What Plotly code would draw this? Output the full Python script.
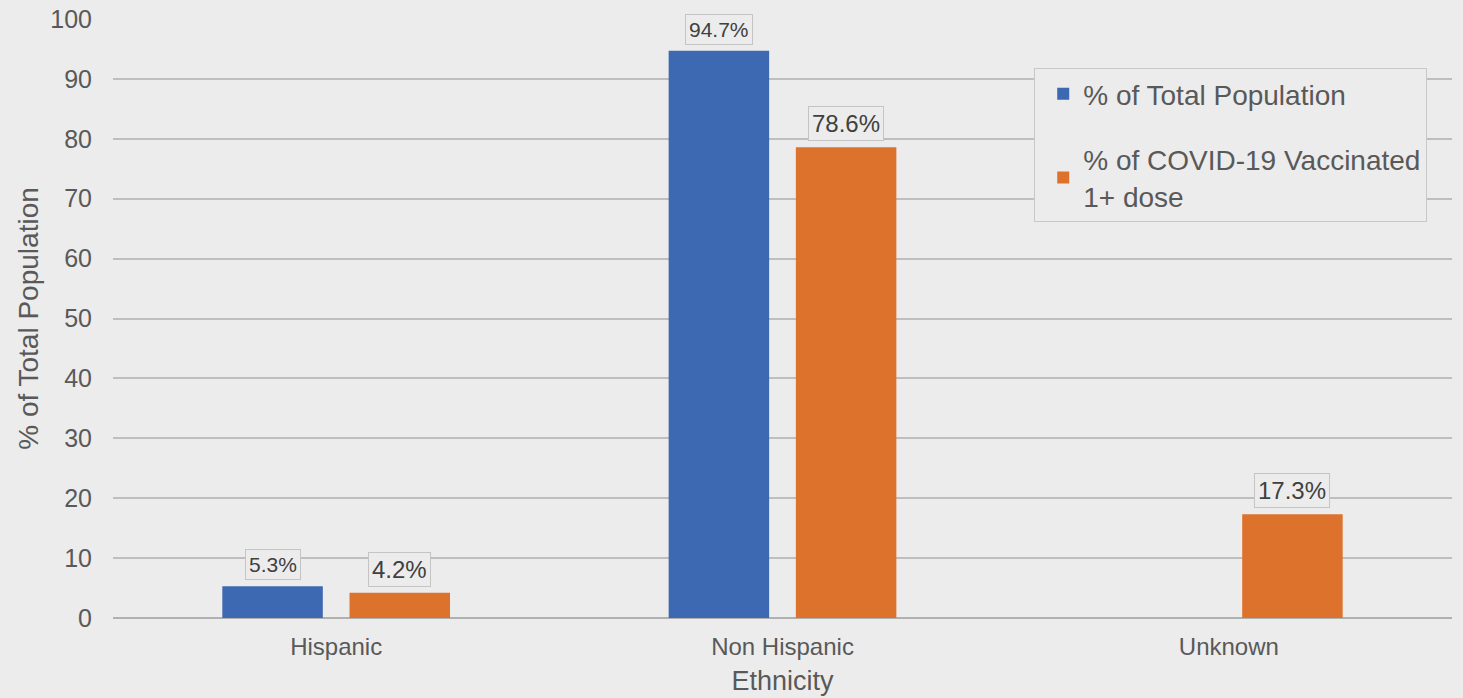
import plotly.graph_objects as go

categories = ["Hispanic", "Non Hispanic", "Unknown"]
series_names = ["% of Total Population", "% of COVID-19 Vaccinated<br>1+ dose"]
total_pop = [5.3, 94.7, None]
vaccinated = [4.2, 78.6, 17.3]
y_ticks = [0, 10, 20, 30, 40, 50, 60, 70, 80, 90, 100]

BLUE = "#3D68B2"
ORANGE = "#DD722C"
BG = "#ECECEC"
TXT = "#595959"
FONT = "Liberation Sans, Arial, sans-serif"

fig = go.Figure()
fig.add_trace(go.Bar(x=categories, y=total_pop, name=series_names[0],
                     marker=dict(color=BLUE, line=dict(width=0)),
                     legendgroup="a", hoverinfo="skip"))
fig.add_trace(go.Bar(x=categories, y=vaccinated, name=series_names[1],
                     marker=dict(color=ORANGE, line=dict(width=0)),
                     legendgroup="b", hoverinfo="skip"))

annotations = []
for vals, shift, fsize in [(total_pop, -63.5, 21), (vaccinated, 63.5, 24)]:
    for c, v in zip(categories, vals):
        if v is None:
            continue
        annotations.append(dict(
            x=c, y=v, xref="x", yref="y", xshift=shift, yshift=6,
            yanchor="bottom", xanchor="center", showarrow=False,
            text=f"{v:.1f}%", font=dict(family=FONT, size=fsize, color="#404040"),
            bordercolor="#C4C4C4", borderwidth=1, borderpad=3, bgcolor=BG))

fig.update_layout(
    width=1463, height=698,
    paper_bgcolor=BG, plot_bgcolor=BG,
    font=dict(family=FONT, color=TXT),
    margin=dict(l=113, r=11, t=19, b=80),
    barmode="group", bargap=0.43, bargroupgap=0.21,
    showlegend=True,
    legend=dict(x=0.688, y=0.918, xanchor="left", yanchor="top",
                bgcolor=BG, bordercolor="#C8C8C8", borderwidth=1,
                font=dict(family=FONT, size=28, color=TXT),
                tracegroupgap=26, traceorder="grouped", indentation=8,
                entrywidth=412, entrywidthmode="pixels",
                itemclick=False, itemdoubleclick=False),
    annotations=annotations,
    hovermode=False,
)
fig.update_xaxes(
    type="category", showgrid=False, showline=False, zeroline=False,
    tickfont=dict(family=FONT, size=24, color=TXT), ticklabelstandoff=12,
    title=dict(text="Ethnicity", font=dict(family=FONT, size=27, color=TXT), standoff=12),
    automargin=False,
)
fig.update_yaxes(
    range=[0, 100], tickvals=y_ticks, showgrid=True, gridcolor="#BEBEBE", gridwidth=1.5,
    zeroline=True, zerolinecolor="#B0B0B0", zerolinewidth=1.5, showline=False,
    tickfont=dict(family=FONT, size=25, color=TXT), ticklabelstandoff=20,
    title=dict(text="% of Total Population", font=dict(family=FONT, size=28, color=TXT), standoff=3),
    automargin=False,
)

fig.write_html("out.html", config={"displayModeBar": False},
               post_script="document.body.style.margin='0';document.body.style.overflow='hidden';")
